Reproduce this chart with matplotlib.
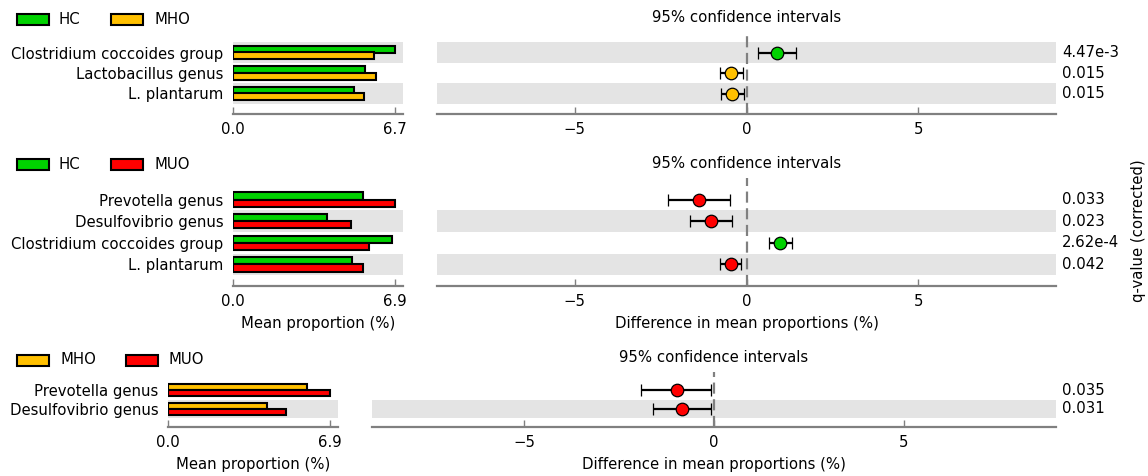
import matplotlib
matplotlib.use("Agg")
import matplotlib.pyplot as plt
from matplotlib.patches import Rectangle
import numpy as np

# ---------------- data ----------------
COLOR_HC = "#00d200"
COLOR_MHO = "#ffc000"
COLOR_MUO = "#ff0000"

hc_mho_features = ["Clostridium coccoides group", "Lactobacillus genus", "L. plantarum"]
hc_mho_hc = [6.70, 5.46, 5.00]
hc_mho_mho = [5.83, 5.90, 5.44]
hc_mho_diff = [0.90, -0.44, -0.41]
hc_mho_ci_low = [0.33, -0.78, -0.73]
hc_mho_ci_high = [1.45, -0.09, -0.08]
hc_mho_q = ["4.47e-3", "0.015", "0.015"]

hc_muo_features = ["Prevotella genus", "Desulfovibrio genus",
                   "Clostridium coccoides group", "L. plantarum"]
hc_muo_hc = [5.52, 4.02, 6.78, 5.06]
hc_muo_muo = [6.90, 5.05, 5.79, 5.53]
hc_muo_diff = [-1.38, -1.04, 0.98, -0.46]
hc_muo_ci_low = [-2.29, -1.64, 0.66, -0.78]
hc_muo_ci_high = [-0.49, -0.43, 1.31, -0.15]
hc_muo_q = ["0.033", "0.023", "2.62e-4", "0.042"]

mho_muo_features = ["Prevotella genus", "Desulfovibrio genus"]
mho_muo_mho = [5.91, 4.20]
mho_muo_muo = [6.90, 5.05]
mho_muo_diff = [-0.98, -0.85]
mho_muo_ci_low = [-1.91, -1.60]
mho_muo_ci_high = [-0.09, -0.09]
mho_muo_q = ["0.035", "0.031"]

# ---------------- style ----------------
W, H = 1148, 476
FS = 10.7
GRAY_ROW = "#e4e4e4"
AXIS_GRAY = "#808080"
plt.rcParams["font.family"] = ["DejaVu Sans"]
plt.rcParams["font.size"] = FS

fig = plt.figure(figsize=(W / 100, H / 100), dpi=100)


def px_axes(x0, y0, x1, y1):
    return fig.add_axes([x0 / W, 1 - y1 / H, (x1 - x0) / W, (y1 - y0) / H])


def style_bottom_spine(ax):
    for side in ("left", "right", "top"):
        ax.spines[side].set_visible(False)
    ax.spines["bottom"].set_color(AXIS_GRAY)
    ax.spines["bottom"].set_linewidth(1.6)
    ax.tick_params(axis="x", direction="in", length=5, width=1, color=AXIS_GRAY,
                   pad=6, labelsize=FS)
    ax.tick_params(axis="y", length=0)


def shade_rows(ax, n):
    for i in range(n):
        if i % 2 == 0:
            ax.axhspan(i - 0.5, i + 0.5, color=GRAY_ROW, lw=0, zorder=0)


def draw_legend(y, entries):
    # entries: list of (label, color, box_x, text_x)
    for label, color, bx, tx in entries:
        fig.add_artist(Rectangle((bx / W, 1 - (y + 5.5) / H), 32 / W, 11 / H,
                                 transform=fig.transFigure, facecolor=color,
                                 edgecolor="black", lw=1.5))
        fig.text(tx / W, 1 - y / H, label, ha="left", va="center", fontsize=FS)


def draw_panel(bar_box, ci_box, features, g1, g2, c1, c2, diff, lo, hi, qvals,
               xlabels=False):
    n = len(features)
    ypos = np.arange(n)[::-1]  # first feature at the top

    # mean proportions
    axb = px_axes(*bar_box)
    shade_rows(axb, n)
    hbar = 0.33
    axb.barh(ypos + hbar / 2, g1, height=hbar, color=c1, edgecolor="black",
             lw=1.5, zorder=2)
    axb.barh(ypos - hbar / 2, g2, height=hbar, color=c2, edgecolor="black",
             lw=1.5, zorder=2)
    vmax = round(max(max(g1), max(g2)), 1)
    axb.set_xlim(0, vmax * 1.05)
    axb.set_ylim(-1, n)
    axb.set_xticks([0, vmax])
    axb.set_xticklabels(["0.0", f"{vmax:.1f}"])
    axb.set_yticks(ypos)
    axb.set_yticklabels(features, fontsize=FS)
    axb.tick_params(axis="y", pad=7)
    style_bottom_spine(axb)
    axb.set_facecolor("none")

    # confidence intervals
    axc = px_axes(*ci_box)
    shade_rows(axc, n)
    axc.axvline(0, color=AXIS_GRAY, lw=1.6, zorder=1, dashes=(5, 2.5))
    for yv, d, l, h in zip(ypos, diff, lo, hi):
        col = c1 if d > 0 else c2
        axc.errorbar([d], [yv], xerr=[[d - l], [h - d]], fmt="o", color="black",
                     ecolor="black", elinewidth=1.6, capsize=4.5, capthick=1.3,
                     markerfacecolor=col, markeredgecolor="black", mew=0.9,
                     ms=9, zorder=3)
    axc.set_xlim(-9, 9)
    axc.set_ylim(-1, n)
    axc.set_xticks([-5, 0, 5])
    axc.set_yticks([])
    style_bottom_spine(axc)
    axc.set_title("95% confidence intervals", fontsize=FS, pad=7)
    for yv, q in zip(ypos, qvals):
        axc.annotate(q, xy=(1, yv), xycoords=("axes fraction", "data"),
                     xytext=(4.5, 0), textcoords="offset points",
                     ha="left", va="center", fontsize=FS)

    if xlabels:
        axb.set_xlabel("Mean proportion (%)", fontsize=FS, labelpad=5)
        axc.set_xlabel("Difference in mean proportions (%)", fontsize=FS,
                       labelpad=5)
    return axb, axc


# HC vs MHO
draw_legend(19.5, [("HC", COLOR_HC, 17, 58), ("MHO", COLOR_MHO, 111, 154)])
draw_panel((233, 32, 403, 114), (437, 32, 1056, 114), hc_mho_features,
           hc_mho_hc, hc_mho_mho, COLOR_HC, COLOR_MHO, hc_mho_diff,
           hc_mho_ci_low, hc_mho_ci_high, hc_mho_q)

# HC vs MUO
draw_legend(164.5, [("HC", COLOR_HC, 17, 58), ("MUO", COLOR_MUO, 111, 154)])
draw_panel((233, 178, 403, 286), (437, 178, 1056, 286), hc_muo_features,
           hc_muo_hc, hc_muo_muo, COLOR_HC, COLOR_MUO, hc_muo_diff,
           hc_muo_ci_low, hc_muo_ci_high, hc_muo_q, xlabels=True)

# MHO vs MUO
draw_legend(360, [("MHO", COLOR_MHO, 17, 60), ("MUO", COLOR_MUO, 126, 168)])
draw_panel((168, 372, 338, 427), (372, 372, 1056, 427), mho_muo_features,
           mho_muo_mho, mho_muo_muo, COLOR_MHO, COLOR_MUO, mho_muo_diff,
           mho_muo_ci_low, mho_muo_ci_high, mho_muo_q, xlabels=True)

fig.text(1138 / W, 1 - 231 / H, "q-value (corrected)", rotation=90,
         ha="center", va="center", fontsize=FS)

fig.savefig("out.png", dpi=100)
